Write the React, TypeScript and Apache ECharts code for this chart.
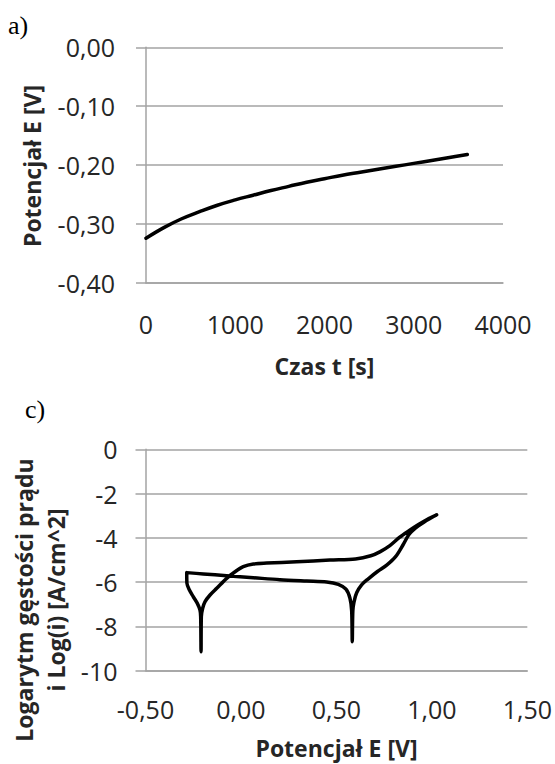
import React, { useEffect, useRef } from "react";
import * as echarts from "echarts";

// Chart a) – open-circuit potential vs time
const timeS = [0, 200, 400, 600, 800, 1000, 1200, 1400, 1600, 1800, 2000, 2200, 2400, 2600, 2800, 3000, 3200, 3400, 3600];
const potentialV = [-0.324, -0.306, -0.291, -0.279, -0.268, -0.259, -0.251, -0.243, -0.236, -0.229, -0.223, -0.217, -0.212, -0.207, -0.202, -0.197, -0.192, -0.187, -0.182];

// Chart c) – cyclic polarization curve (scan order: forward, then reverse)
const scanE = [
  -0.284, -0.283, -0.270, -0.2495, -0.2285, -0.2146, -0.211, -0.209, -0.2076, -0.2006, -0.188, -0.162, -0.127, -0.075, -0.031, 0.012, 0.065, 0.135, 0.292, 0.466, 0.60, 0.68, 0.73, 0.78, 0.83, 0.88, 0.93, 0.975, 1.025,
  0.96, 0.915, 0.88, 0.85, 0.81, 0.765, 0.715, 0.667, 0.632, 0.606, 0.592, 0.586, 0.583, 0.580, 0.571, 0.550, 0.510, 0.449, 0.344, 0.204, 0.065, -0.075, -0.197, -0.284,
];
const scanLogI = [
  -5.60, -6.05, -6.36, -6.66, -6.96, -7.26, -7.56, -9.14, -7.56, -7.18, -6.88, -6.58, -6.28, -5.83, -5.53, -5.30, -5.18, -5.14, -5.08, -5.00, -4.95, -4.81, -4.62, -4.35, -3.98, -3.68, -3.40, -3.17, -2.96,
  -3.28, -3.55, -3.85, -4.30, -4.85, -5.22, -5.52, -5.85, -6.12, -6.48, -6.90, -7.30, -8.69, -7.30, -6.73, -6.32, -6.10, -5.99, -5.95, -5.89, -5.80, -5.71, -5.63, -5.57,
];

// Axis ranges / ticks
const axisA = { xMin: 0, xMax: 4000, xStep: 1000, yMin: -0.4, yMax: 0, yStep: 0.1 };
const axisC = { xMin: -0.5, xMax: 1.5, xStep: 0.5, yMin: -10, yMax: 0, yStep: 2 };

const titles = {
  panelA: "a)",
  panelC: "c)",
  aX: "Czas t [s]",
  aY: "Potencjał E [V]",
  cX: "Potencjał E [V]",
  cY: "Logarytm gęstości prądu\ni Log(i) [A/cm^2]",
};

const FONT = "'Open Sans', 'Noto Sans', sans-serif";
const GRID_COLOR = "#a3a3a3";
const TEXT_COLOR = "#262626";

const comma2 = (v: number) => (Math.abs(v) < 1e-9 ? 0 : v).toFixed(2).replace(".", ",");

export default function App() {
  const ref = useRef<HTMLDivElement>(null);

  useEffect(() => {
    if (!ref.current) return;
    const chart = echarts.init(ref.current, null, { renderer: "svg" });

    const labelStyle = { fontFamily: FONT, fontSize: 25, color: TEXT_COLOR };
    const splitLine = { show: true, lineStyle: { color: GRID_COLOR, width: 1.5 } };
    const axisLine = { show: true, onZero: false, lineStyle: { color: GRID_COLOR, width: 1.5 } };
    const yTick = { show: true, inside: false, length: 10, lineStyle: { color: GRID_COLOR, width: 1.5 } };

    const option: any = {
      animation: false,
      backgroundColor: "#ffffff",
      grid: [
        { left: 146, top: 47.3, width: 357, height: 235.7, containLabel: false },
        { left: 145.5, top: 449.3, width: 382, height: 221.4, containLabel: false },
      ],
      xAxis: [
        {
          gridIndex: 0,
          type: "value",
          min: axisA.xMin,
          max: axisA.xMax,
          interval: axisA.xStep,
          axisLine,
          axisTick: { show: false },
          splitLine: { show: false },
          axisLabel: { ...labelStyle, margin: 28, formatter: (v: number) => String(v) },
        },
        {
          gridIndex: 1,
          type: "value",
          min: axisC.xMin,
          max: axisC.xMax,
          interval: axisC.xStep,
          axisLine,
          axisTick: { show: false },
          splitLine: { show: false },
          axisLabel: { ...labelStyle, margin: 26, formatter: (v: number) => comma2(v) },
        },
      ],
      yAxis: [
        {
          gridIndex: 0,
          type: "value",
          min: axisA.yMin,
          max: axisA.yMax,
          interval: axisA.yStep,
          axisLine,
          axisTick: yTick,
          splitLine,
          axisLabel: { ...labelStyle, margin: 31, formatter: (v: number) => comma2(v) },
        },
        {
          gridIndex: 1,
          type: "value",
          min: axisC.yMin,
          max: axisC.yMax,
          interval: axisC.yStep,
          axisLine,
          axisTick: yTick,
          splitLine,
          axisLabel: { ...labelStyle, margin: 28, formatter: (v: number) => String(Math.round(v)) },
        },
      ],
      series: [
        {
          type: "line",
          xAxisIndex: 0,
          yAxisIndex: 0,
          data: timeS.map((t, i) => [t, potentialV[i]]),
          showSymbol: false,
          smooth: 0.4,
          lineStyle: { color: "#000", width: 3.5, cap: "round" },
        },
        {
          type: "line",
          xAxisIndex: 1,
          yAxisIndex: 1,
          data: scanE.map((e, i) => [e, scanLogI[i]]),
          showSymbol: false,
          smooth: 0.3,
          lineStyle: { color: "#000", width: 3.5, join: "round", cap: "round" },
        },
      ],
      graphic: [
        {
          type: "text",
          left: 8,
          top: 12,
          style: { text: titles.panelA, font: "26px 'Liberation Serif', serif", fill: "#000" },
        },
        {
          type: "text",
          left: 25,
          top: 396,
          style: { text: titles.panelC, font: "26px 'Liberation Serif', serif", fill: "#000" },
        },
        {
          type: "text",
          x: 324.5,
          y: 366,
          style: {
            text: titles.aX,
            font: `bold 23px ${FONT}`,
            fill: TEXT_COLOR,
            textAlign: "center",
            textVerticalAlign: "middle",
          },
        },
        {
          type: "text",
          x: 32,
          y: 166,
          rotation: Math.PI / 2,
          style: {
            text: titles.aY,
            font: `bold 23px ${FONT}`,
            fill: TEXT_COLOR,
            textAlign: "center",
            textVerticalAlign: "middle",
          },
        },
        {
          type: "text",
          x: 336.5,
          y: 748,
          style: {
            text: titles.cX,
            font: `bold 23px ${FONT}`,
            fill: TEXT_COLOR,
            textAlign: "center",
            textVerticalAlign: "middle",
          },
        },
        {
          type: "text",
          x: 40,
          y: 600,
          rotation: Math.PI / 2,
          style: {
            text: titles.cY,
            font: `bold 23px ${FONT}`,
            lineHeight: 32,
            fill: TEXT_COLOR,
            textAlign: "center",
            textVerticalAlign: "middle",
          },
        },
      ],
    };

    chart.setOption(option);
    return () => chart.dispose();
  }, []);

  return (
    <div
      ref={ref}
      style={{ position: "absolute", left: 0, top: 0, width: 555, height: 764, background: "#fff" }}
    />
  );
}
